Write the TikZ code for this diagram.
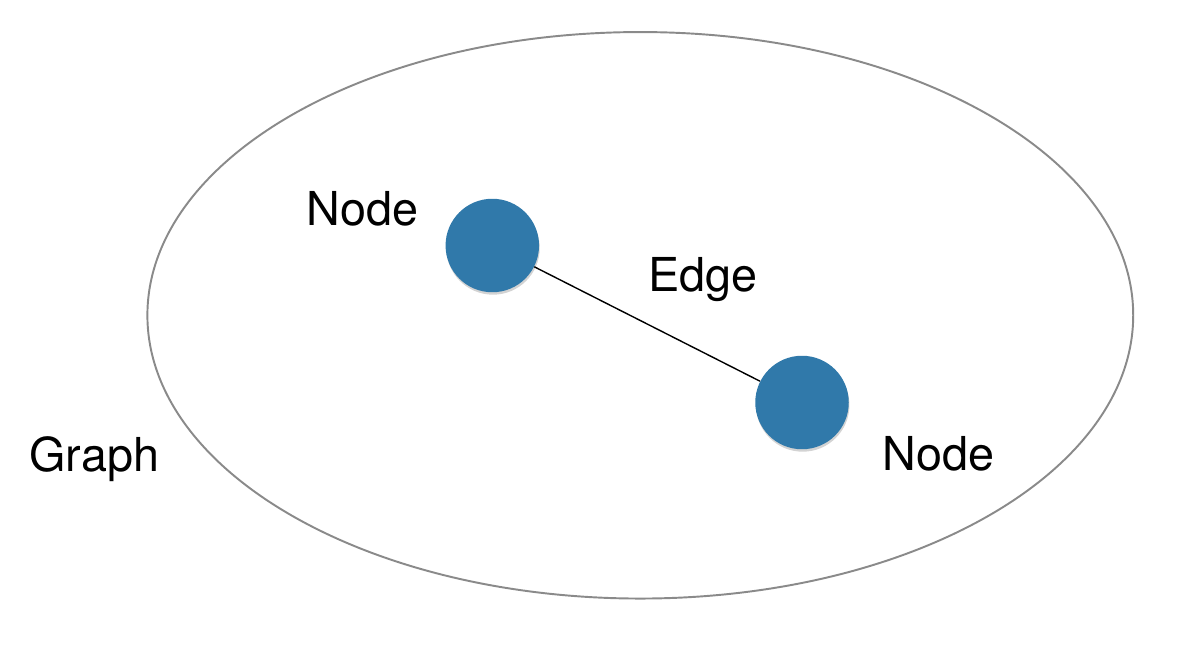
\documentclass[tikz,border=0pt]{standalone}
\usepackage{fontspec}
\setmainfont{TeX Gyre Heros}
\usetikzlibrary{shadows}
\definecolor{nodeblue}{HTML}{3079AA}
\definecolor{rimgray}{HTML}{8A8A8A}
\begin{document}
\begin{tikzpicture}[x=0.02cm,y=-0.02cm,
    vertex/.style={circle,fill=nodeblue,minimum size=1.87cm,inner sep=0pt,
      drop shadow={shadow xshift=0.4pt,shadow yshift=-1.4pt,opacity=0.35}},
    lbl/.style={anchor=base,inner sep=0pt,font=\fontsize{26.6}{32}\selectfont}]
  \useasboundingbox (0,0) rectangle (1202,658);
  % graph outline
  \draw[rimgray,line width=1.1pt] (640.3,315.3) ellipse [x radius=9.86cm,y radius=5.666cm];
  \node[vertex] (n1) at (492.3,245.5) {};
  \node[vertex] (n2) at (802,402.5) {};
  \draw[line width=0.8pt] (n1) -- (n2);
  \node[lbl] (l1) at (362.5,225.7) {Node};
  \node[lbl] (le) at (703.3,291.7) {Edge};
  \node[lbl] (l2) at (938.3,470) {Node};
  \node[lbl] (lg) at (94.2,471.5) {Graph};
\end{tikzpicture}
\end{document}
